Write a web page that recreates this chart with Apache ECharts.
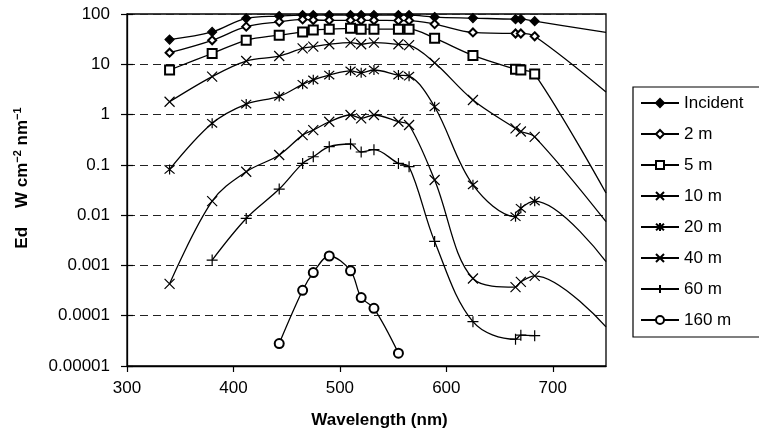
<!DOCTYPE html>
<html>
<head>
<meta charset="utf-8">
<script src="https://cdn.jsdelivr.net/npm/echarts@6/dist/echarts.min.js"></script>
<style>
html,body{margin:0;padding:0;background:#fff;}
#chart{width:759px;height:434px;}
</style>
</head>
<body>
<div id="chart"></div>
<script>
// Wavelengths (nm); 750 is the plot's right edge where the lines leave the frame
const wavelengths = [340, 380, 412, 443, 465, 475, 490, 510, 520, 532, 555, 565, 589, 625, 665, 670, 683, 750];

const incident = [31, 44, 82, 91, 95, 95, 95, 95, 95, 95, 95, 95, 87, 83, 79, 79, 72, 43];
const m2   = [17, 30, 56, 70, 78, 76, 75, 75, 75, 75, 74, 74, 63, 43, 41, 41, 36, 2.8];
const m5   = [7.7, 16.4, 30, 38, 44, 48, 50, 52, 50, 50, 50, 50, 33, 15, 8, 7.7, 6.4, 0.0275];
const m10  = [1.8, 5.7, 11.6, 14.6, 20.7, 22.4, 25, 27, 25, 27, 25, 24, 10.7, 1.95, 0.53, 0.46, 0.36, 0.0074];
const m20  = [0.081, 0.67, 1.62, 2.3, 4.0, 4.9, 6.1, 7.4, 6.8, 7.7, 6.1, 5.8, 1.43, 0.040, 0.0093, 0.0137, 0.019, 0.00119];
const m40  = [0.00043, 0.019, 0.073, 0.157, 0.39, 0.49, 0.72, 0.98, 0.84, 0.98, 0.72, 0.62, 0.05, 0.00055, 0.00037, 0.00047, 0.00062, 0.00006];
const m60  = [null, 0.00128, 0.0086, 0.033, 0.107, 0.145, 0.23, 0.26, 0.18, 0.2, 0.107, 0.092, 0.003, 0.000076, 0.000034, 0.000041, 0.00004, null];
const m160 = [null, null, null, 0.000028, 0.00032, 0.00072, 0.00154, 0.00078, 0.00023, 0.00014, 0.000018, null, null, null, null, null, null, null];

const seriesNames = ['Incident', '2 m', '5 m', '10 m', '20 m', '40 m', '60 m', '160 m'];
const yTickLabels = ['0.00001', '0.0001', '0.001', '0.01', '0.1', '1', '10', '100'];
const xTickValues = [300, 400, 500, 600, 700];

const X_SYM = 'path://M0,0L10,10M10,0L0,10';
const STAR_SYM = 'path://M0,0L10,10M10,0L0,10M5,-1L5,11';
const PLUS_SYM = 'path://M5,0L5,10M0,5L10,5';

const styles = [
  {symbol: 'diamond', size: 9},
  {symbol: 'emptyDiamond', size: 8},
  {symbol: 'emptyRect', size: 9},
  {symbol: X_SYM, size: 10},
  {symbol: STAR_SYM, size: 10},
  {symbol: X_SYM, size: 10},
  {symbol: PLUS_SYM, size: 11},
  {symbol: 'emptyCircle', size: 9}
];
const allVals = [incident, m2, m5, m10, m20, m40, m60, m160];

function buildData(vals) {
  const out = [];
  wavelengths.forEach((w, i) => {
    const v = vals[i];
    if (v == null) return;
    if (w >= 750) out.push({value: [w, v], symbol: 'none'});
    else out.push([w, v]);
  });
  return out;
}

const series = seriesNames.map((name, k) => ({
  name: name,
  type: 'line',
  data: buildData(allVals[k]),
  smooth: 0.35,
  symbol: styles[k].symbol,
  symbolSize: styles[k].size,
  showAllSymbol: true,
  lineStyle: {color: '#000', width: 1.3},
  itemStyle: {color: '#000', borderColor: '#000', borderWidth: 1.2},
  emphasis: {disabled: true},
  animation: false,
  z: 3
}));

const FONT = '"Liberation Sans", Arial, Helvetica, sans-serif';

const chart = echarts.init(document.getElementById('chart'), null, {renderer: 'canvas'});
chart.setOption({
  backgroundColor: '#fff',
  animation: false,
  textStyle: {fontFamily: FONT, color: '#000'},
  grid: {left: 127, right: 153, top: 14, bottom: 68, show: true, borderColor: '#000', borderWidth: 1.3, backgroundColor: 'transparent'},
  xAxis: {
    type: 'value', min: 300, max: 750, interval: 100,
    axisLine: {lineStyle: {color: '#000', width: 1.3}},
    axisTick: {length: 6, lineStyle: {color: '#000', width: 1.2}, customValues: xTickValues},
    axisLabel: {fontSize: 17, color: '#000', margin: 14, fontFamily: FONT, customValues: xTickValues},
    splitLine: {show: false}
  },
  yAxis: [{
    type: 'log', logBase: 10, min: 0.00001, max: 100,
    axisLine: {show: true, lineStyle: {color: '#000', width: 1.3}},
    axisTick: {show: true, length: 6, lineStyle: {color: '#000', width: 1.2}},
    axisLabel: {fontSize: 17, color: '#000', margin: 17, fontFamily: FONT,
      formatter: v => yTickLabels[Math.round(Math.log10(v)) + 5]},
    splitLine: {show: true, lineStyle: {color: '#222', width: 1, type: [8, 5]}}
  }, {
    type: 'log', logBase: 10, min: 0.00001, max: 100, position: 'left',
    axisLine: {show: false},
    axisTick: {show: true, inside: true, length: 6, lineStyle: {color: '#000', width: 1.2}},
    axisLabel: {show: false},
    splitLine: {show: false}
  }],
  legend: {
    data: seriesNames,
    orient: 'vertical',
    left: 633, top: 87,
    padding: [6, 30, 7, 7],
    itemWidth: 38, itemHeight: 10, itemGap: 11,
    borderColor: '#000', borderWidth: 1.2,
    backgroundColor: '#fff',
    textStyle: {fontSize: 17, color: '#000', lineHeight: 20, fontFamily: FONT},
    selectedMode: false
  },
  graphic: [{
    type: 'text', left: 'center', x: 0,
    style: {text: 'Wavelength (nm)', font: 'bold 17px ' + FONT, fill: '#000', textAlign: 'center', textVerticalAlign: 'middle'},
    position: [357, 420], z: 10
  }, {
    type: 'text',
    position: [22, 178],
    rotation: Math.PI / 2,
    style: {
      text: '{b|Ed    W cm}{s|−2}{b| nm}{s|−1}',
      textAlign: 'center', textVerticalAlign: 'middle',
      rich: {
        b: {font: 'bold 17px ' + FONT, fill: '#000'},
        s: {font: 'bold 11px ' + FONT, fill: '#000', verticalAlign: 'top', padding: [0, 0, 8, 0]}
      }
    },
    z: 10
  }],
  series: series
});
</script>
</body>
</html>
